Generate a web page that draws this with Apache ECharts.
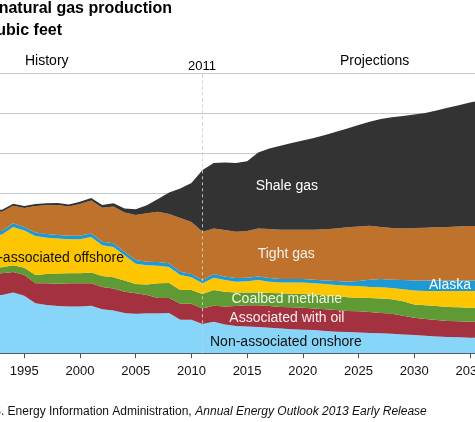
<!DOCTYPE html>
<html><head><meta charset="utf-8">
<script src="https://cdn.jsdelivr.net/npm/echarts@6/dist/echarts.min.js"></script>
<style>html,body{margin:0;padding:0;background:#fff;overflow:hidden}#c{width:475px;height:422px}</style>
</head><body><div id="c"></div>
<script>
// Years shown (trillion cubic feet, stacked by source)
const years = [1992,1993,1994,1995,1996,1997,1998,1999,2000,2001,2002,2003,2004,2005,2006,2007,2008,2009,2010,2011,2012,2013,2014,2015,2016,2017,2018,2019,2020,2021,2022,2023,2024,2025,2026,2027,2028,2029,2030,2031,2032,2033,2034,2035,2036];
const nonAssocOnshore = [7.2,7.3,7.6,7.2,6.25,6.05,5.9,5.85,5.85,5.95,5.5,5.35,5.05,4.95,5.0,5.0,5.05,4.2,4.2,3.66,3.95,3.6,3.4,3.35,3.3,3.2,3.1,3.0,2.95,2.9,2.8,2.7,2.65,2.6,2.55,2.5,2.45,2.35,2.3,2.2,2.1,2.05,2.0,1.95,1.95];
const assocWithOil = [2.7,2.7,2.55,2.6,2.5,2.7,2.8,2.9,2.9,2.8,2.8,2.75,2.65,2.55,2.3,1.9,1.85,2.0,2.0,1.94,2.0,2.25,2.5,2.65,2.7,2.7,2.7,2.75,2.75,2.7,2.7,2.7,2.65,2.65,2.6,2.55,2.5,2.35,2.15,2.1,2.05,2.0,2.0,2.0,2.0];
const coalbedMethane = [0.8,0.75,0.85,0.9,1.05,1.15,1.25,1.25,1.25,1.35,1.36,1.4,1.4,1.16,1.3,1.85,1.9,1.7,1.7,1.8,1.95,1.85,1.7,1.6,1.6,1.65,1.7,1.7,1.7,1.75,1.75,1.75,1.7,1.7,1.75,1.8,1.8,1.8,1.65,1.7,1.75,1.75,1.75,1.75,1.75];
const nonAssocOffshore = [4.05,4.1,4.8,4.65,4.85,4.55,4.4,4.25,4.25,4.45,3.84,3.8,3.15,2.54,2.4,2.2,2.0,1.9,1.6,1.35,1.55,1.45,1.35,1.4,1.55,1.4,1.35,1.4,1.45,1.4,1.4,1.4,1.45,1.45,1.4,1.4,1.4,1.5,1.75,1.8,1.9,2.0,2.05,2.1,2.1];
const alaska = [0.45,0.45,0.45,0.45,0.45,0.45,0.45,0.45,0.45,0.45,0.45,0.45,0.45,0.46,0.45,0.45,0.45,0.4,0.4,0.41,0.45,0.45,0.45,0.45,0.45,0.45,0.45,0.45,0.45,0.45,0.45,0.5,0.5,0.65,0.9,1.05,1.05,1.15,1.25,1.3,1.3,1.3,1.3,1.3,1.3];
const tightGas = [2.5,2.4,2.2,2.35,3.3,3.6,3.75,3.65,3.95,4.1,4.25,4.6,4.9,5.64,6.05,6.3,6.15,6.7,6.5,6.04,5.7,5.8,5.8,5.85,6.0,6.15,6.15,6.15,6.15,6.25,6.4,6.55,6.8,6.8,6.75,6.5,6.45,6.45,6.55,6.6,6.65,6.7,6.75,6.8,6.8];
const shaleGas = [0.25,0.25,0.25,0.25,0.25,0.25,0.25,0.25,0.3,0.3,0.35,0.4,0.5,0.7,1.0,1.6,2.7,3.7,4.9,7.7,8.2,8.45,8.6,8.7,9.5,10.05,10.5,10.85,11.15,11.45,11.8,12.1,12.35,12.7,13.0,13.5,13.85,14.05,14.2,14.35,14.6,14.9,15.15,15.45,15.75];
const seriesNames = ['Non-associated onshore','Associated with oil','Coalbed methane','Non-associated offshore','Alaska','Tight gas','Shale gas'];
const seriesData = [nonAssocOnshore, assocWithOil, coalbedMethane, nonAssocOffshore, alaska, tightGas, shaleGas];
const seriesColors = ['#87d6fa','#a3313f','#5f9a34','#fec600','#1b9ad7','#bf722c','#333333'];
const tickEvery = 5;
const yMin = 0, yMax = 35, yStep = 5;
const dividerYear = '2011';

const FONT = '"Liberation Sans", Arial, sans-serif';
const chart = echarts.init(document.getElementById('c'), null, {renderer: 'canvas'});

const series = seriesNames.map((name, i) => ({
  name, type: 'line', stack: 'total', symbol: 'none', showSymbol: false,
  lineStyle: {width: 0, opacity: 0},
  areaStyle: {color: seriesColors[i], opacity: 1},
  itemStyle: {color: seriesColors[i]},
  data: seriesData[i]
}));
series[series.length - 1].markLine = {
  silent: true, symbol: ['none', 'none'], label: {show: false},
  lineStyle: {color: 'rgba(205,205,205,0.9)', type: [3, 3], width: 1},
  data: [[{coord: [dividerYear, yMin]}, {coord: [dividerYear, yMax]}]]
};

function txt(x, y, text, opts) {
  opts = opts || {};
  return {
    type: 'text', x, y, silent: true, z: 100,
    style: {
      text, fill: opts.fill || '#000',
      font: (opts.style || 'normal') + ' ' + (opts.weight || 'normal') + ' ' + (opts.size || 14) + 'px ' + FONT,
      align: opts.align || 'left', textAlign: opts.align || 'left',
      verticalAlign: 'middle', textVerticalAlign: 'middle'
    }
  };
}
const onTick = (idx, val) => Number(val) % tickEvery === 0;

chart.setOption({
  animation: false,
  backgroundColor: '#fff',
  grid: {left: -9.12, top: 73.3, width: 490.16, height: 280, containLabel: false, outerBoundsMode: 'none'},
  xAxis: {
    type: 'category', boundaryGap: false, data: years.map(String),
    axisLine: {show: true, lineStyle: {color: '#4d5358', width: 1}},
    axisTick: {show: true, length: 5, interval: onTick, lineStyle: {color: '#4d5358'}},
    axisLabel: {show: true, margin: 12, interval: onTick, color: '#111', fontSize: 13, fontFamily: FONT},
    splitLine: {show: false}
  },
  yAxis: {
    type: 'value', min: yMin, max: yMax, interval: yStep,
    axisLine: {show: false}, axisTick: {show: false}, axisLabel: {show: false},
    splitLine: {show: true, lineStyle: {color: '#c9c9c9', width: 1}}
  },
  series,
  graphic: [
    txt(172, 8.5, 'U.S. dry natural gas production', {weight: 'bold', size: 16, align: 'right'}),
    txt(62, 31, 'trillion cubic feet', {weight: 'bold', size: 16, align: 'right'}),
    txt(25, 61.5, 'History', {size: 14}),
    txt(202, 66, '2011', {size: 13, align: 'center'}),
    txt(340, 61.5, 'Projections', {size: 14}),
    txt(255.7, 186, 'Shale gas', {fill: '#ffffff'}),
    txt(257.7, 254, 'Tight gas', {fill: '#f6f2ee'}),
    txt(429, 285, 'Alaska', {fill: '#ffffff'}),
    txt(124, 258.3, 'Non-associated offshore', {fill: '#111', align: 'right'}),
    txt(231.5, 298.8, 'Coalbed methane', {fill: '#eef6e2'}),
    txt(229.3, 318.3, 'Associated with oil', {fill: '#fbeef0'}),
    txt(210, 341.7, 'Non-associated onshore', {fill: '#111'}),
    txt(191.7, 411.7, 'Source: U.S. Energy Information Administration,', {size: 12, fill: '#111', align: 'right'}),
    txt(195.3, 411.7, 'Annual Energy Outlook 2013 Early Release', {size: 12, fill: '#111', style: 'italic'})
  ]
});
</script></body></html>
